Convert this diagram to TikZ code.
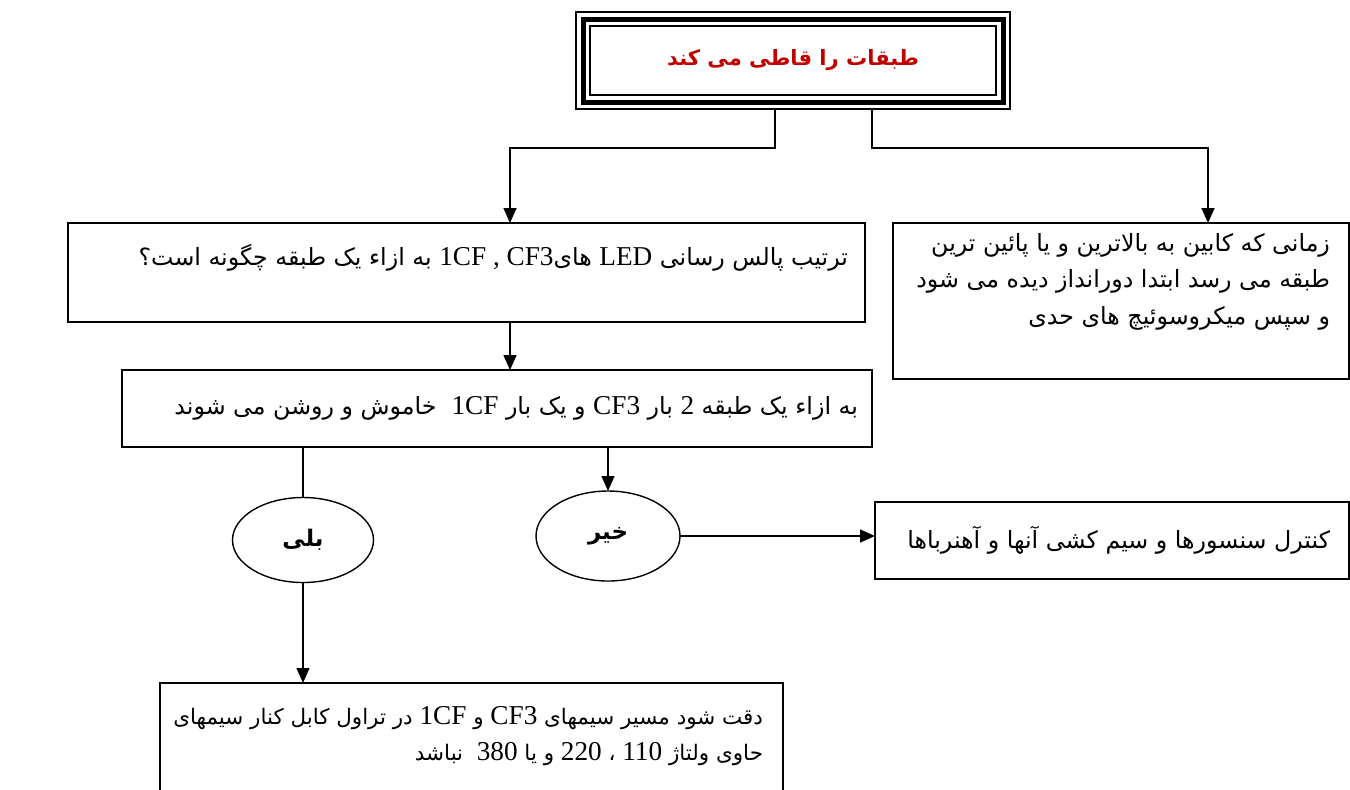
\documentclass[tikz,border=0pt]{standalone}
\usepackage{fontspec}
\usetikzlibrary{arrows.meta,shapes.geometric}
\TeXXeTstate=1
\newfontfamily\farsi[Script=Arabic]{DejaVu Sans}
\newfontfamily\latin{Liberation Serif}
\newcommand\lat[1]{\beginL{\latin\fontsize{15.5}{21}\selectfont #1}\endL}
\definecolor{titlered}{RGB}{192,0,0}

\begin{document}
\begin{tikzpicture}[line width=0.8pt, inner sep=0, outer sep=0,
    >={Triangle[length=0.3cm, width=0.26cm]},
    box/.style={rectangle, draw=black, anchor=north west},
    answer/.style={ellipse, draw=black, font=\farsi\bfseries\fontsize{13}{16}\selectfont},
    boxtext/.style={align=right, font=\farsi\fontsize{13.5}{21}\selectfont}]
  \useasboundingbox (0,0) rectangle (27,-15.78);

  % title with triple frame
  \node[rectangle, draw=black,
    minimum width = 8.68cm,
    minimum height = 1.94cm] (title) at (15.86,-1.21) {};
  \draw[line width=2.85pt] ([shift={(0.14,-0.14)}]title.north west) rectangle ([shift={(-0.14,0.14)}]title.south east);
  \draw ([shift={(0.28,-0.28)}]title.north west) rectangle ([shift={(-0.28,0.28)}]title.south east);
  \node[text=titlered, font=\farsi\bfseries\fontsize{12}{16}\selectfont] (title-text) at (title.center) {\beginR طبقات را قاطی می کند\endR};

  \node[box,
    minimum width = 15.94cm,
    minimum height = 1.98cm] (box2) at (1.36,-4.46) {};
  \node[boxtext, anchor=north east] (box2-text) at ([xshift=-0.34cm, yshift=-0.42cm]box2.north east)
    {\beginR ترتیب پالس رسانی \lat{LED} های\lat{1CF , CF3} به ازاء یک طبقه چگونه است؟\endR};

  \node[box,
    minimum width = 9.12cm,
    minimum height = 3.12cm] (box3) at (17.86,-4.46) {};
  \node[boxtext, anchor=north east] (box3-text) at ([xshift=-0.38cm, yshift=-0.2cm]box3.north east)
    {\beginR زمانی که کابین به بالاترین و یا پائین ترین\endR\\
     \beginR طبقه می رسد ابتدا دورانداز دیده می شود\endR\\
     \beginR و سپس میکروسوئیچ های حدی\endR};

  \node[box,
    minimum width = 15cm,
    minimum height = 1.54cm] (box4) at (2.44,-7.40) {};
  \node[boxtext, anchor=east] (box4-text) at ([xshift=-0.28cm]box4.east)
    {\beginR به ازاء یک طبقه \lat{2} بار \lat{CF3} و یک بار \lat{1CF}\ \ خاموش و روشن می شوند\endR};

  \node[answer, minimum width = 2.82cm, minimum height = 1.7cm] (yes) at (6.06,-10.8) {\beginR بلی\endR};
  \node[answer, minimum width = 2.88cm, minimum height = 1.8cm] (no) at (12.16,-10.72) {\beginR خیر\endR};

  \node[box,
    minimum width = 9.48cm,
    minimum height = 1.54cm] (box5) at (17.5,-10.04) {};
  \node[boxtext, anchor=east] (box5-text) at ([xshift=-0.38cm]box5.east)
    {\beginR کنترل سنسورها و سیم کشی آنها و آهنرباها\endR};

  \node[box,
    minimum width = 12.46cm,
    minimum height = 2.6cm] (box6) at (3.2,-13.66) {};
  \node[boxtext, anchor=north east, font=\farsi\fontsize{12.2}{18.6}\selectfont] (box6-text) at ([xshift=-0.4cm, yshift=-0.46cm]box6.north east)
    {\beginR دقت شود مسیر سیمهای \lat{CF3} و \lat{1CF} در تراول کابل کنار سیمهای\endR\\[2pt]
     \beginR حاوی ولتاژ \lat{110} ، \lat{220} و یا \lat{380}\ \ نباشد\endR};

  % connectors
  \coordinate (cross1) at ([xshift=-0.36cm]title.south);
  \coordinate (cross2) at ([xshift=1.58cm]title.south);
  \coordinate (drop1) at ([xshift=0.87cm]box2.north);
  \coordinate (drop2) at ([xshift=1.74cm]box3.north);
  \coordinate (drop3) at ([xshift=0.87cm]box2.south);

  \draw[->] (cross1) -- ++(0,-0.78) -| (drop1);
  \draw[->] (cross2) -- ++(0,-0.78) -| (drop2);
  \draw[->] (drop3) -- (drop3 |- box4.north);

  \draw (box4.south -| yes.north) -- (yes.north);
  \draw[->] (box4.south -| no.north) -- (no.north);
  \draw[->] (no.east) -- (no.east -| box5.west);
  \draw[->] (yes.south) -- (yes.south |- box6.north);
\end{tikzpicture}
\end{document}
